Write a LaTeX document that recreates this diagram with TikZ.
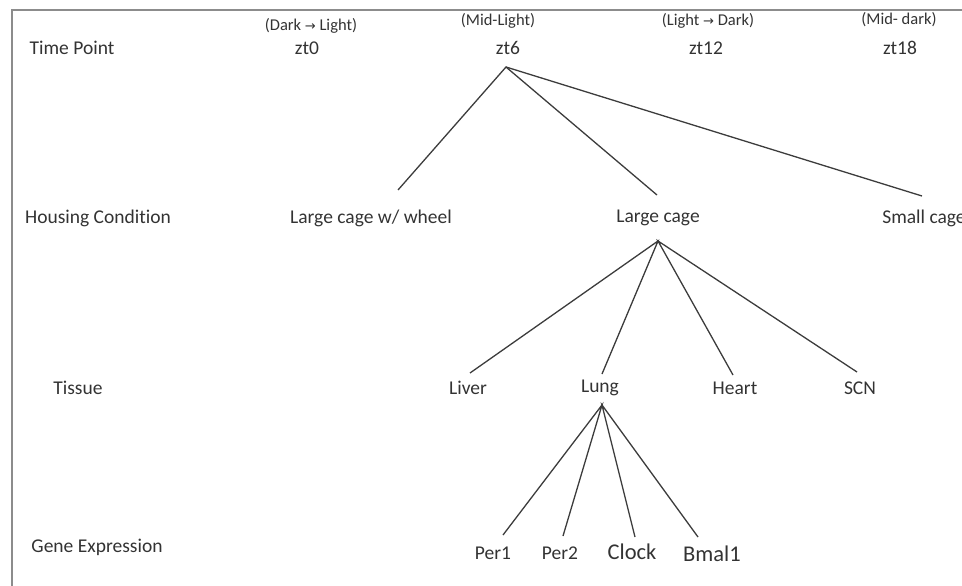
\documentclass[tikz,border=0pt]{standalone}
\usepackage{fontspec}
\setmainfont[Ligatures=NoCommon]{Carlito}
\newfontfamily\symfont{DejaVu Sans}
\definecolor{txt}{HTML}{333333}
\definecolor{ln}{HTML}{3C3C3C}
\definecolor{frame}{HTML}{8C8C8C}
\begin{document}
\begin{tikzpicture}[x=1pt,y=-1pt,
  lbl/.style={inner sep=0pt,text=txt,font=\fontsize{19.5}{22}\selectfont},
  small/.style={inner sep=0pt,text=txt,font=\fontsize{16.5}{19}\selectfont},
  big/.style={inner sep=0pt,text=txt,font=\fontsize{22.5}{25}\selectfont},
  edge/.style={draw=ln,line width=1.3pt}]
\useasboundingbox (0,0) rectangle (962,586);
\begin{scope}
\clip (0,0) rectangle (962,586);
% frame
\draw[frame,line width=1.5pt] (12,586) -- (12,10) -- (962,10);
% row labels
\node[lbl] (rTime) at (72,48) {Time Point};
\node[lbl] (rHouse) at (98,218) {Housing Condition};
\node[lbl] (rTissue) at (78,388) {Tissue};
\node[lbl] (rGene) at (97,547) {Gene Expression};
% time points
\node[small] (p0) at (311,26) {(Dark {\symfont\fontsize{13}{15}\selectfont →} Light)};
\node[lbl] (zt0) at (307,48) {zt0};
\node[small] (p6) at (498,21) {(Mid-Light)};
\node[lbl] (zt6) at (508,48) {zt6};
\node[small] (p12) at (708,21) {(Light {\symfont\fontsize{13}{15}\selectfont →} Dark)};
\node[lbl] (zt12) at (706,48) {zt12};
\node[small] (p18) at (899,20) {(Mid- dark)};
\node[lbl] (zt18) at (900,48) {zt18};
% housing
\node[lbl] (lcw) at (371,218) {Large cage w/ wheel};
\node[lbl] (lc) at (658,218) {Large cage};
\node[lbl] (sc) at (924,218) {Small cage};
% tissue
\node[lbl] (liver) at (468,388) {Liver};
\node[lbl] (lung) at (600,388) {Lung};
\node[lbl] (heart) at (735,388) {Heart};
\node[lbl] (scn) at (860,388) {SCN};
% genes
\node[lbl] (per1) at (493,553) {Per1};
\node[lbl] (per2) at (560,553) {Per2};
\node[big] (clock) at (632,552) {Clock};
\node[big] (bmal) at (712,554) {Bmal1};
% connector ends
\coordinate (a6) at (506,67);
\coordinate (lcwT) at (398,190);
\coordinate (lcT) at (657,195);
\coordinate (scT) at (922,196);
\coordinate (aLC) at (658,241);
\coordinate (liverT) at (470,373);
\coordinate (lungT) at (602,374);
\coordinate (heartT) at (733,375);
\coordinate (scnT) at (857,372);
\coordinate (aLung) at (602,405);
\coordinate (per1T) at (503,535);
\coordinate (per2T) at (563,536);
\coordinate (clockT) at (635,537);
\coordinate (bmalT) at (698,537);
\draw[edge] (lcwT) -- (a6) -- (lcT);
\draw[edge] (a6) -- (scT);
\draw[edge] (liverT) -- (aLC) -- (lungT);
\draw[edge] (heartT) -- (aLC) -- (scnT);
\draw[edge] (per1T) -- (aLung) -- (per2T);
\draw[edge] (clockT) -- (aLung) -- (bmalT);
\end{scope}
\end{tikzpicture}
\end{document}
